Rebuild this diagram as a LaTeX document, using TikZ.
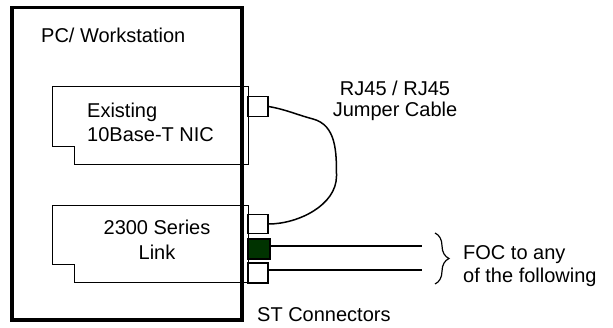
\documentclass[tikz,border=0pt]{standalone}
\usepackage{fontspec}
\setmainfont{Liberation Sans}
\usetikzlibrary{decorations.pathreplacing}
\definecolor{dkgreen}{RGB}{0,51,0}
\begin{document}
\begin{tikzpicture}[x=1pt,y=1pt,
  lbl/.style={inner sep=0pt,font=\fontsize{20}{24}\selectfont},
  card/.style={line width=1pt,draw=black},
  port/.style={draw=black,line width=1.1pt,fill=white,rectangle,inner sep=0pt,minimum width=20pt,minimum height=19.5pt},
  wire/.style={line width=1.5pt},
  fiber/.style={line width=1.3pt}]
\useasboundingbox (0,0) rectangle (613,328);
% PC box
\draw[line width=3.5pt] (12,8) rectangle (242,320.5);
\node[lbl,anchor=base west] (pc) at (41,285.4) {PC/ Workstation};
% card 1
\draw[card] (248,241) -- (52,241) -- (52,181) -- (74,181) -- (74,163) -- (248,163) -- cycle;
\node[lbl,anchor=base west] (ex1) at (87,210.4) {Existing};
\node[lbl,anchor=base west] (ex2) at (87,186) {10Base-T NIC};
% card 2
\draw[card] (248,122) -- (52,122) -- (52,63) -- (74,63) -- (74,45) -- (248,45) -- cycle;
\node[lbl,anchor=base] (lk1) at (157,93) {2300 Series};
\node[lbl,anchor=base] (lk2) at (157,68.5) {Link};
% ports
\node[port] (p1) at (258,221.5) {};
\node[port] (p2) at (258,104) {};
\node[port,fill=dkgreen,minimum width=22pt,minimum height=20pt] (pg) at (259,79) {};
\node[port,minimum height=20pt] (p3) at (258,55) {};
% jumper cable
\draw[wire] (p1.east) to[out=-10,in=165] (313,209) to[out=-15,in=90] (336.5,152) to[out=-90,in=0,looseness=0.9] (p2.east);
\node[lbl,anchor=base] (rj1) at (395,232.5) {RJ45 / RJ45};
\node[lbl,anchor=base] (rj2) at (395,211) {Jumper Cable};
% fibers
\coordinate (f1) at (422,82);
\coordinate (f2) at (422,58);
\draw[fiber] (pg.east |- f1) -- (f1);
\draw[fiber] (p3.east |- f2) -- (f2);
\coordinate (bt) at (435,95);
\coordinate (bb) at (435,44);
\draw[line width=1.2pt,decorate,decoration={brace,amplitude=14pt}] (bt) -- (bb);
\node[lbl,anchor=base west] (foc1) at (463,68.5) {FOC to any};
\node[lbl,anchor=base west] (foc2) at (463,45.5) {of the following};
\node[lbl,anchor=base west] (st) at (257,6.5) {ST Connectors};
\end{tikzpicture}
\end{document}
